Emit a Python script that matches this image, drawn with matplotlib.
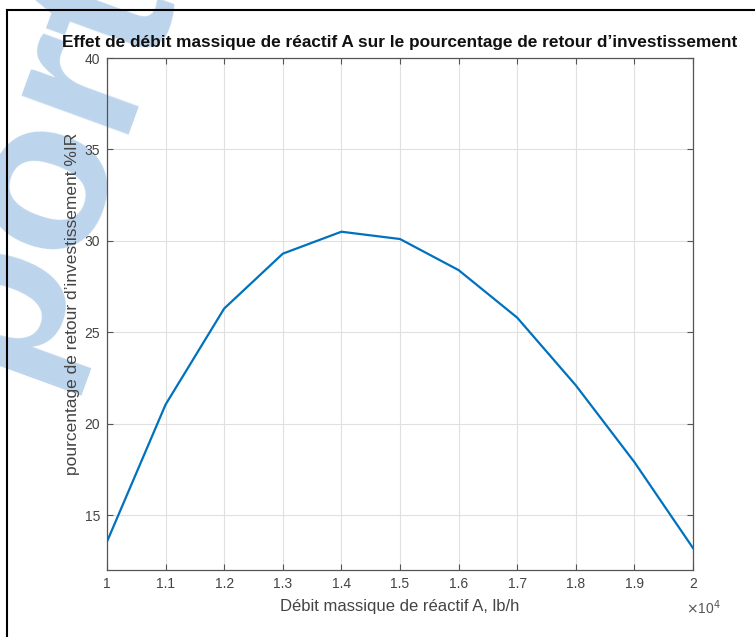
import matplotlib.pyplot as plt
from matplotlib.lines import Line2D
from matplotlib.ticker import FuncFormatter

# debit massique (lb/h) et pourcentage de retour d'investissement
debit = [10000, 11000, 12000, 13000, 14000, 15000, 16000, 17000, 18000, 19000, 20000]
pct_ir = [13.55, 21.05, 26.3, 29.3, 30.5, 30.1, 28.4, 25.8, 22.1, 17.9, 13.2]

x_ticks = [10000, 11000, 12000, 13000, 14000, 15000, 16000, 17000, 18000, 19000, 20000]
y_ticks = [15, 20, 25, 30, 35, 40]

plt.rcParams['font.family'] = ['Liberation Sans', 'DejaVu Sans']

fig = plt.figure(figsize=(7.55, 6.37), dpi=100)

# filigrane bleu a gauche (derriere tout)
fig.text(45/755, 1 - 165/637, 'port', rotation=70, fontsize=155, fontweight='bold',
         color='#bdd5ec', ha='center', va='center', zorder=-5)

# cadre noir autour de la figure
fig.add_artist(Line2D([7/755, 7/755], [0, 1 - 10/637], color='black', lw=1.5, zorder=5))
fig.add_artist(Line2D([7/755, 1], [1 - 10/637, 1 - 10/637], color='black', lw=1.5, zorder=5))

ax = fig.add_axes([107/755, 67/637, 586/755, 512/637])
ax.patch.set_alpha(0)
ax.plot(debit, pct_ir, color='#0072BD', lw=1.6)

ax.set_xlim(10000, 20000)
ax.set_ylim(12, 40)
ax.set_xticks(x_ticks)
ax.set_yticks(y_ticks)
ax.xaxis.set_major_formatter(FuncFormatter(lambda v, p: '%g' % (v / 1e4)))
ax.grid(True, color='#e0e0e0', lw=0.8)
ax.tick_params(direction='in', length=4, top=True, right=True, labelsize=10,
               colors='#555555', labelcolor='#444444', width=0.8, pad=5)
for s in ax.spines.values():
    s.set_color('#555555')
    s.set_linewidth(0.9)

ax.set_title("Effet de débit massique de réactif A sur le pourcentage de retour d\u2019investissement",
             fontsize=12.4, fontweight='bold', color='#111111', pad=8)
ax.set_xlabel('Débit massique de réactif A, lb/h', fontsize=12, color='#444444', labelpad=6)
ax.set_ylabel('pourcentage de retour d\u2019investissement %IR', fontsize=12.5, color='#444444')
ax.yaxis.set_label_coords(-0.046, 0.52)
fig.text(0.955, 1 - 608/637, r'$\times$10$^4$', fontsize=10, color='#555555', ha='right', va='center')

fig.savefig('out.png', dpi=100)
